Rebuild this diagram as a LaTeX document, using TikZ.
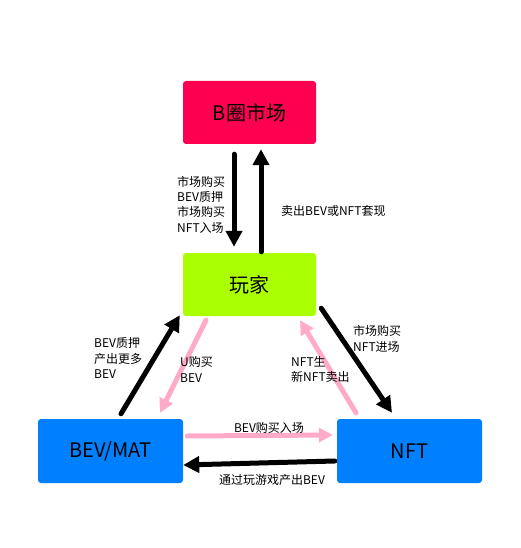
\documentclass[tikz,border=0pt]{standalone}
\usepackage{fontspec}
\setmainfont{Noto Sans CJK SC}
\usetikzlibrary{arrows.meta}

\definecolor{marketred}{RGB}{255,0,80}
\definecolor{playergreen}{RGB}{170,255,0}
\definecolor{tokenblue}{RGB}{0,128,255}
\definecolor{flowpink}{RGB}{255,170,200}

\tikzset{
	box/.style={fill=#1, rounded corners=3pt, minimum width=133pt, minimum height=63pt, font=\fontsize{20}{24}\selectfont},
	bigbox/.style={box=#1, minimum width=145pt, minimum height=64pt},
	blackflow/.style={line width=5pt, line cap=round, -{Triangle[length=16pt,width=16pt]}},
	pinkflow/.style={line width=5pt, line cap=round, flowpink, -{Triangle[length=14pt,width=14pt]}},
	note/.style={align=left, anchor=west, inner sep=0pt, font=\fontsize{12}{15.3}\selectfont}
}

\begin{document}
\begin{tikzpicture}[x=1pt, y=-1pt]
		\useasboundingbox (0, 0) rectangle (521, 548);
	
		\node[box=marketred] (market) at (249.5, 112.5) {B圈市场};
		\node[box=playergreen] (player) at (249.5, 284.5) {玩家};
		\node[bigbox=tokenblue] (bev) at (110.5, 451) {BEV/MAT};
		\node[bigbox=tokenblue] (nft) at (409.5, 451) {NFT};
		
		% market <-> player
		\draw[blackflow] ([xshift=-15.5pt, yshift=-10pt]market.south) -- ([xshift=-15.5pt, yshift=6pt]player.north);
		\draw[blackflow] ([xshift=11.5pt, yshift=1pt]player.north) -- ([xshift=11.5pt, yshift=-5pt]market.south);
		
		% triangle
		\draw[blackflow] ([xshift=10.5pt, yshift=5pt]bev.north) -- ([xshift=-3pt, yshift=1pt]player.south west);
		\draw[blackflow] ([xshift=5pt, yshift=8pt]player.south east) -- ([xshift=-17.5pt, yshift=6pt]nft.north);
		\draw[blackflow] ([xshift=-2pt, yshift=-10pt]nft.west) -- ([yshift=-14pt]bev.east);
		
		\draw[pinkflow] ([xshift=-43.5pt, yshift=-4pt]player.south) -- ([xshift=49.5pt, yshift=6pt]bev.north);
		\draw[pinkflow] ([xshift=-53.5pt, yshift=6pt]nft.north) -- ([xshift=50.5pt, yshift=-4pt]player.south);
		\draw[pinkflow] ([xshift=4pt, yshift=15pt]bev.east) -- ([xshift=-4pt, yshift=16pt]nft.west);
		
		\node[note] (buyin) at (177, 204.5) {市场购买\\BEV质押\\市场购买\\NFT入场};
		\node[note] (cashout) at (281, 211) {卖出BEV或NFT套现};
		\node[note] (stake) at (94, 358) {BEV质押\\产出更多\\BEV};
		\node[note] (ubuy) at (180, 369.5) {U购买\\BEV};
		\node[note] (resell) at (291, 369.5) {NFT生\\新NFT卖出};
		\node[note] (nftbuy) at (353, 339) {市场购买\\NFT进场};
		\node[note, anchor=center] (bevbuy) at (269, 428) {BEV购买入场};
		\node[note, anchor=center] (play) at (272, 480) {通过玩游戏产出BEV};
	\end{tikzpicture}
\end{document}
